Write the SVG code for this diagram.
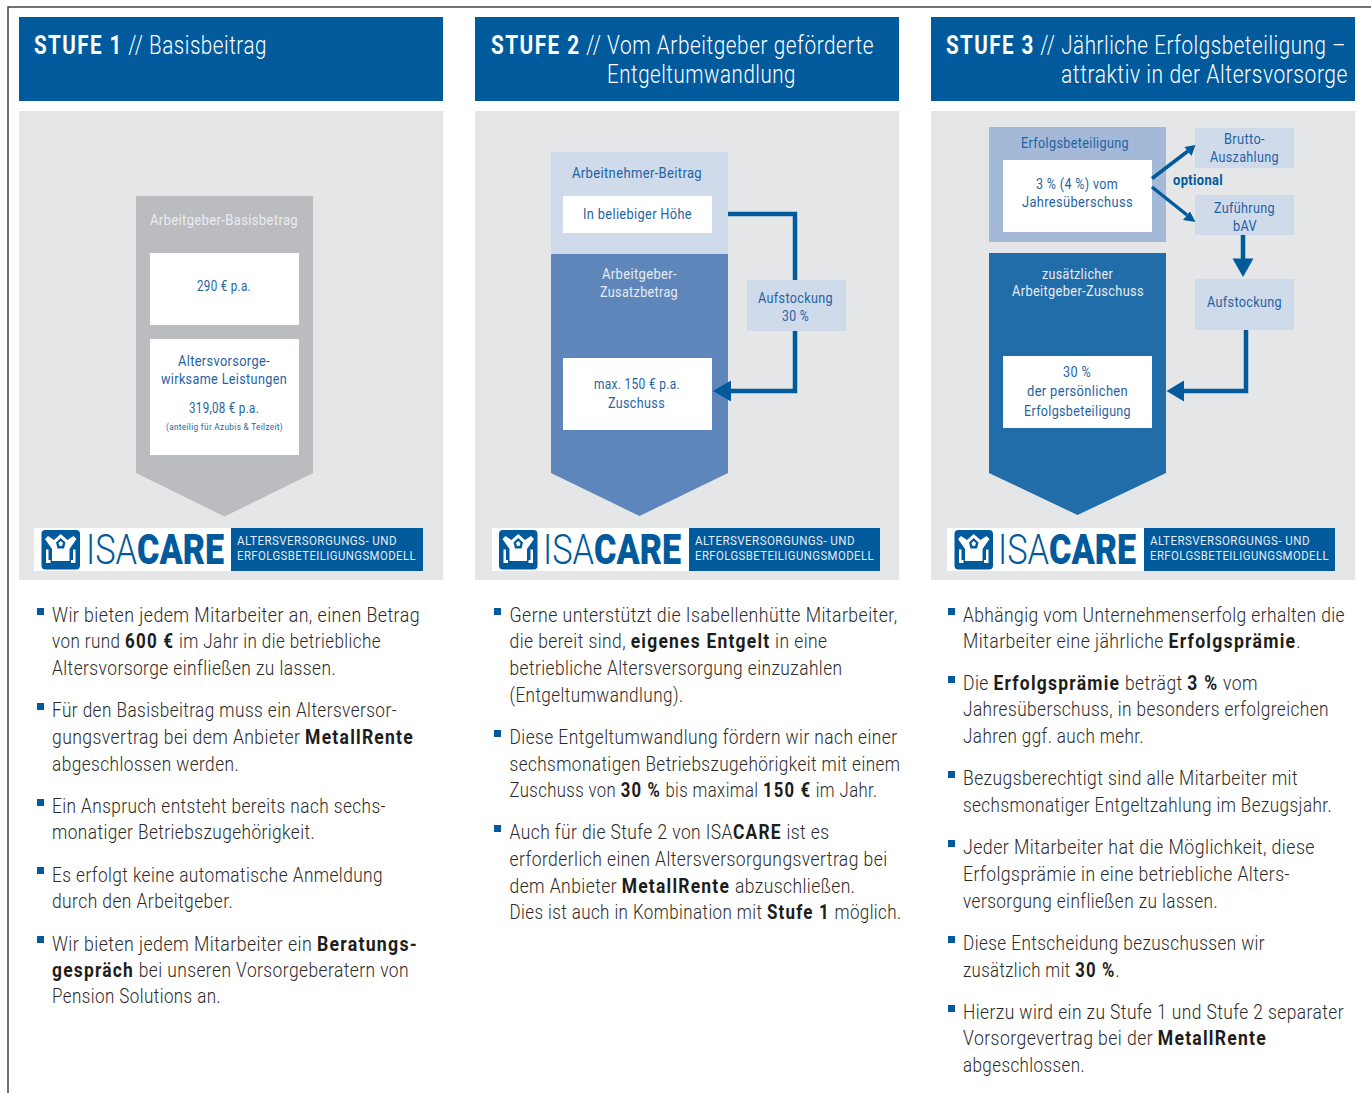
<svg xmlns="http://www.w3.org/2000/svg" width="1371" height="1093" viewBox="0 0 1371 1093">
<style>
text{font-family:Roboto,"Liberation Sans",sans-serif}
.b{font-size:20px;fill:#2b2a29;font-weight:300;letter-spacing:.5px;transform:translateY(1px)}
.b tspan{font-weight:700;fill:#1d1d1b;letter-spacing:1.400px}
.h{font-size:26px;fill:#fff;font-weight:300;letter-spacing:.7px}
.h tspan{font-weight:700;letter-spacing:1.800px}
.l{font-size:14.5px;fill:#1f63a3;letter-spacing:.4px}
.w{font-size:14.5px;fill:#e8ecf2;letter-spacing:.4px}
.hd{fill:#005a9c}.pn{fill:#e5e6e8}.wb{fill:#fff}.lt{fill:#cfdaeb}
.bu{fill:#005a9c}
.c{fill:none;stroke:#005a9c;stroke-width:4.5}
.ah{fill:#005a9c}
.isa{font-size:42px;font-weight:300;fill:#005a9c}
.care{font-size:42px;font-weight:900;fill:#005a9c}
.lg{font-size:13px;fill:#e4edf5;letter-spacing:.5px}
</style>
<defs>
<g id="ico">
<rect x="0" y="0" width="38.5" height="39.500" rx="4" fill="#005a9c"/>
<path d="M19.200 4L26 10L32 6L35 9L28 19V31H10.500V19L3.500 9L6.500 6L12.500 10Z" fill="#fff"/>
<path d="M19.200 8L14.500 12.500L16 18.500H22.500L24 12.500Z" fill="#005a9c"/>
<path d="M19.200 11L17 13L18 16H20.500L21.500 13Z" fill="#fff"/>
<path d="M4.500 19.500H7V30H9V33H4.500ZM34 19.500H31.500V30H29.500V33H34Z" fill="#fff"/>
</g>
</defs>
<path d="M8 1093V7H1371" fill="none" stroke="#444" stroke-width="1.5"/>

<g id="stufe1">
<g id="s1-header"><rect class="hd" x="19" y="17" width="424" height="84"/>
<text class="h" x="34" y="54" textLength="233" lengthAdjust="spacingAndGlyphs"><tspan>STUFE 1</tspan> // Basisbeitrag</text></g>
<rect class="pn" x="19" y="111" width="424" height="469"/>
<g id="s1-arrow"><path d="M136 196H313V473L224.500 516.500L136 473Z" fill="#bbbcbf"/>
<text class="w" x="150" y="225" textLength="148" lengthAdjust="spacingAndGlyphs">Arbeitgeber-Basisbetrag</text></g>
<g id="s1-betrag"><rect class="wb" x="150" y="253" width="149" height="72"/>
<text class="l" x="197" y="291" textLength="54" lengthAdjust="spacingAndGlyphs">290 € p.a.</text></g>
<g id="s1-leistungen"><rect class="wb" x="150" y="339" width="149" height="116"/>
<text class="l" x="178" y="366" textLength="92" lengthAdjust="spacingAndGlyphs">Altersvorsorge-</text>
<text class="l" x="161" y="384" textLength="126" lengthAdjust="spacingAndGlyphs">wirksame Leistungen</text>
<text class="l" x="189" y="413" textLength="70" lengthAdjust="spacingAndGlyphs">319,08 € p.a.</text>
<text class="l" style="font-size:9.500px" x="166" y="430" textLength="117" lengthAdjust="spacingAndGlyphs">(anteilig für Azubis &amp; Teilzeit)</text></g>
<g id="s1-logo"><rect class="wb" x="34" y="528" width="197" height="43"/><rect class="hd" x="231" y="528" width="192" height="43"/>
<use href="#ico" x="41.500" y="530"/>
<text class="isa" x="86" y="564" textLength="51" lengthAdjust="spacingAndGlyphs">ISA</text>
<text class="care" x="137" y="564" textLength="87" lengthAdjust="spacingAndGlyphs">CARE</text>
<text class="lg" x="237" y="545" textLength="160" lengthAdjust="spacingAndGlyphs">ALTERSVERSORGUNGS- UND</text>
<text class="lg" x="237" y="560" textLength="179" lengthAdjust="spacingAndGlyphs">ERFOLGSBETEILIGUNGSMODELL</text></g>
<g id="s1-text">
<rect class="bu" x="37" y="608" width="7" height="7"/><rect class="bu" x="37" y="703" width="7" height="7"/><rect class="bu" x="37" y="799" width="7" height="7"/><rect class="bu" x="37" y="867" width="7" height="7"/><rect class="bu" x="37" y="936" width="7" height="7"/>
<text class="b" x="52" y="621" textLength="368" lengthAdjust="spacingAndGlyphs">Wir bieten jedem Mitarbeiter an, einen Betrag</text>
<text class="b" x="52" y="647" textLength="329" lengthAdjust="spacingAndGlyphs">von rund <tspan>600 €</tspan> im Jahr in die betriebliche</text>
<text class="b" x="52" y="674" textLength="284" lengthAdjust="spacingAndGlyphs">Altersvorsorge einfließen zu lassen.</text>
<text class="b" x="52" y="716" textLength="345" lengthAdjust="spacingAndGlyphs">Für den Basisbeitrag muss ein Altersversor-</text>
<text class="b" x="52" y="743" textLength="362" lengthAdjust="spacingAndGlyphs">gungsvertrag bei dem Anbieter <tspan>MetallRente</tspan></text>
<text class="b" x="52" y="770" textLength="187" lengthAdjust="spacingAndGlyphs">abgeschlossen werden.</text>
<text class="b" x="52" y="812" textLength="334" lengthAdjust="spacingAndGlyphs">Ein Anspruch entsteht bereits nach sechs-</text>
<text class="b" x="52" y="838" textLength="263" lengthAdjust="spacingAndGlyphs">monatiger Betriebszugehörigkeit.</text>
<text class="b" x="52" y="881" textLength="331" lengthAdjust="spacingAndGlyphs">Es erfolgt keine automatische Anmeldung</text>
<text class="b" x="52" y="907" textLength="181" lengthAdjust="spacingAndGlyphs">durch den Arbeitgeber.</text>
<text class="b" x="52" y="950" textLength="366" lengthAdjust="spacingAndGlyphs">Wir bieten jedem Mitarbeiter ein <tspan>Beratungs-</tspan></text>
<text class="b" x="52" y="976" textLength="357" lengthAdjust="spacingAndGlyphs"><tspan>gespräch</tspan> bei unseren Vorsorgeberatern von</text>
<text class="b" x="52" y="1002" textLength="169" lengthAdjust="spacingAndGlyphs">Pension Solutions an.</text>
</g>
</g>

<g id="stufe2">
<g id="s2-header"><rect class="hd" x="475" y="17" width="424" height="84"/>
<text class="h" x="491" y="54" textLength="383" lengthAdjust="spacingAndGlyphs"><tspan>STUFE 2</tspan> // Vom Arbeitgeber geförderte</text>
<text class="h" x="607" y="83" textLength="189" lengthAdjust="spacingAndGlyphs">Entgeltumwandlung</text></g>
<rect class="pn" x="475" y="111" width="424" height="469"/>
<g id="s2-nehmer"><rect class="lt" x="551" y="152" width="177" height="102"/>
<text class="l" x="572" y="178" textLength="130" lengthAdjust="spacingAndGlyphs">Arbeitnehmer-Beitrag</text>
<rect class="wb" x="563" y="196" width="149" height="37"/>
<text class="l" x="583" y="219" textLength="109" lengthAdjust="spacingAndGlyphs">In beliebiger Höhe</text></g>
<g id="s2-geber"><path d="M551 254H728V473L639.500 516L551 473Z" fill="#5e86ba"/>
<text class="w" x="602" y="279" textLength="75" lengthAdjust="spacingAndGlyphs">Arbeitgeber-</text>
<text class="w" x="600" y="297" textLength="78" lengthAdjust="spacingAndGlyphs">Zusatzbetrag</text>
<rect class="wb" x="563" y="358" width="149" height="72"/>
<text class="l" x="594" y="389" textLength="86" lengthAdjust="spacingAndGlyphs">max. 150 € p.a.</text>
<text class="l" x="608" y="408" textLength="57" lengthAdjust="spacingAndGlyphs">Zuschuss</text></g>
<g id="s2-connectors">
<path class="c" d="M728 214H795V391H728"/>
<path class="ah" d="M713 391L731 380.500V401.500Z"/>
</g>
<g id="s2-aufstockung"><rect class="lt" x="747" y="280" width="99" height="51"/>
<text class="l" x="758" y="303" textLength="75" lengthAdjust="spacingAndGlyphs">Aufstockung</text>
<text class="l" x="782" y="321" textLength="27" lengthAdjust="spacingAndGlyphs">30 %</text></g>
<g id="s2-logo"><rect class="wb" x="492" y="528" width="197" height="43"/><rect class="hd" x="689" y="528" width="191" height="43"/>
<use href="#ico" x="499" y="530"/>
<text class="isa" x="543" y="564" textLength="51" lengthAdjust="spacingAndGlyphs">ISA</text>
<text class="care" x="594" y="564" textLength="87" lengthAdjust="spacingAndGlyphs">CARE</text>
<text class="lg" x="695" y="545" textLength="160" lengthAdjust="spacingAndGlyphs">ALTERSVERSORGUNGS- UND</text>
<text class="lg" x="695" y="560" textLength="179" lengthAdjust="spacingAndGlyphs">ERFOLGSBETEILIGUNGSMODELL</text></g>
<g id="s2-text">
<rect class="bu" x="494" y="608" width="7" height="7"/><rect class="bu" x="494" y="730" width="7" height="7"/><rect class="bu" x="494" y="825" width="7" height="7"/>
<text class="b" x="509.500" y="621" textLength="388" lengthAdjust="spacingAndGlyphs">Gerne unterstützt die Isabellenhütte Mitarbeiter,</text>
<text class="b" x="509.500" y="647" textLength="318" lengthAdjust="spacingAndGlyphs">die bereit sind, <tspan>eigenes Entgelt</tspan> in eine</text>
<text class="b" x="509.500" y="674" textLength="333" lengthAdjust="spacingAndGlyphs">betriebliche Altersversorgung einzuzahlen</text>
<text class="b" x="509.500" y="701" textLength="174" lengthAdjust="spacingAndGlyphs">(Entgeltumwandlung).</text>
<text class="b" x="509.500" y="743" textLength="388" lengthAdjust="spacingAndGlyphs">Diese Entgeltumwandlung fördern wir nach einer</text>
<text class="b" x="509.500" y="770" textLength="391" lengthAdjust="spacingAndGlyphs">sechsmonatigen Betriebszugehörigkeit mit einem</text>
<text class="b" x="509.500" y="796" textLength="368" lengthAdjust="spacingAndGlyphs">Zuschuss von <tspan>30 %</tspan> bis maximal <tspan>150 €</tspan> im Jahr.</text>
<text class="b" x="509.500" y="838" textLength="320" lengthAdjust="spacingAndGlyphs">Auch für die Stufe 2 von ISA<tspan>CARE</tspan> ist es</text>
<text class="b" x="509.500" y="865" textLength="378" lengthAdjust="spacingAndGlyphs">erforderlich einen Altersversorgungsvertrag bei</text>
<text class="b" x="509.500" y="892" textLength="346" lengthAdjust="spacingAndGlyphs">dem Anbieter <tspan>MetallRente</tspan> abzuschließen.</text>
<text class="b" x="509.500" y="918" textLength="392" lengthAdjust="spacingAndGlyphs">Dies ist auch in Kombination mit <tspan>Stufe 1</tspan> möglich.</text>
</g>
</g>

<g id="stufe3">
<g id="s3-header"><rect class="hd" x="931" y="17" width="424" height="84"/>
<text class="h" x="946" y="54" textLength="400" lengthAdjust="spacingAndGlyphs"><tspan>STUFE 3</tspan> // Jährliche Erfolgsbeteiligung –</text>
<text class="h" x="1061" y="83" textLength="287" lengthAdjust="spacingAndGlyphs">attraktiv in der Altersvorsorge</text></g>
<rect class="pn" x="931" y="111" width="424" height="469"/>
<g id="s3-erfolg"><rect x="989" y="127" width="177" height="115" fill="#a4b8d8"/>
<text class="l" x="1021" y="148" textLength="108" lengthAdjust="spacingAndGlyphs">Erfolgsbeteiligung</text>
<rect class="wb" x="1003" y="160" width="149" height="72"/>
<text class="l" x="1036" y="189" textLength="82" lengthAdjust="spacingAndGlyphs">3 % (4 %) vom</text>
<text class="l" x="1022" y="207" textLength="111" lengthAdjust="spacingAndGlyphs">Jahresüberschuss</text></g>
<g id="s3-zuschuss"><path d="M989 253H1166V473L1077.500 515L989 473Z" fill="#206daa"/>
<text class="w" x="1042" y="279" textLength="71" lengthAdjust="spacingAndGlyphs">zusätzlicher</text>
<text class="w" x="1012" y="296" textLength="132" lengthAdjust="spacingAndGlyphs">Arbeitgeber-Zuschuss</text>
<rect class="wb" x="1003" y="356" width="149" height="72"/>
<text class="l" x="1063" y="377" textLength="28" lengthAdjust="spacingAndGlyphs">30 %</text>
<text class="l" x="1027" y="396" textLength="101" lengthAdjust="spacingAndGlyphs">der persönlichen</text>
<text class="l" x="1024" y="416" textLength="107" lengthAdjust="spacingAndGlyphs">Erfolgsbeteiligung</text></g>
<g id="s3-brutto"><rect class="lt" x="1195" y="128" width="99" height="40"/>
<text class="l" x="1224" y="144" textLength="41" lengthAdjust="spacingAndGlyphs">Brutto-</text>
<text class="l" x="1210" y="162" textLength="69" lengthAdjust="spacingAndGlyphs">Auszahlung</text></g>
<g id="s3-bav"><rect class="lt" x="1195" y="195" width="99" height="40"/>
<text class="l" x="1214" y="213" textLength="61" lengthAdjust="spacingAndGlyphs">Zuführung</text>
<text class="l" x="1233" y="231" textLength="24" lengthAdjust="spacingAndGlyphs">bAV</text></g>
<g id="s3-aufstockung"><rect class="lt" x="1195" y="279" width="99" height="51"/>
<text class="l" x="1207" y="307" textLength="75" lengthAdjust="spacingAndGlyphs">Aufstockung</text></g>
<text class="l" x="1173" y="185" textLength="50" lengthAdjust="spacingAndGlyphs" style="font-weight:700;fill:#005a9c">optional</text>
<g id="s3-connectors">
<path class="c" style="stroke-width:3.500" d="M1152 178.500L1188 151"/>
<path class="ah" d="M1195.500 145L1191.500 156L1184.500 147Z"/>
<path class="c" style="stroke-width:3.500" d="M1152 187L1187 215"/>
<path class="ah" d="M1195.500 222L1183 220L1190 211.500Z"/>
<path class="c" d="M1243 235V260"/>
<path class="ah" d="M1232.500 258.500H1253.500L1243 277Z"/>
<path class="c" d="M1246 330V391H1180"/>
<path class="ah" d="M1166.500 391L1184 380.500V401.500Z"/>
</g>
<g id="s3-logo"><rect class="wb" x="947" y="528" width="197" height="43"/><rect class="hd" x="1144" y="528" width="191" height="43"/>
<use href="#ico" x="954.500" y="530"/>
<text class="isa" x="998" y="564" textLength="51" lengthAdjust="spacingAndGlyphs">ISA</text>
<text class="care" x="1049" y="564" textLength="87" lengthAdjust="spacingAndGlyphs">CARE</text>
<text class="lg" x="1150" y="545" textLength="160" lengthAdjust="spacingAndGlyphs">ALTERSVERSORGUNGS- UND</text>
<text class="lg" x="1150" y="560" textLength="179" lengthAdjust="spacingAndGlyphs">ERFOLGSBETEILIGUNGSMODELL</text></g>
<g id="s3-text">
<rect class="bu" x="948" y="608" width="7" height="7"/><rect class="bu" x="948" y="676" width="7" height="7"/><rect class="bu" x="948" y="771" width="7" height="7"/><rect class="bu" x="948" y="840" width="7" height="7"/><rect class="bu" x="948" y="936" width="7" height="7"/><rect class="bu" x="948" y="1005" width="7" height="7"/>
<text class="b" x="963" y="621" textLength="382" lengthAdjust="spacingAndGlyphs">Abhängig vom Unternehmenserfolg erhalten die</text>
<text class="b" x="963" y="647" textLength="338" lengthAdjust="spacingAndGlyphs">Mitarbeiter eine jährliche <tspan>Erfolgsprämie</tspan>.</text>
<text class="b" x="963" y="689" textLength="295" lengthAdjust="spacingAndGlyphs">Die <tspan>Erfolgsprämie</tspan> beträgt <tspan>3 %</tspan> vom</text>
<text class="b" x="963" y="715" textLength="366" lengthAdjust="spacingAndGlyphs">Jahresüberschuss, in besonders erfolgreichen</text>
<text class="b" x="963" y="742" textLength="181" lengthAdjust="spacingAndGlyphs">Jahren ggf. auch mehr.</text>
<text class="b" x="963" y="784" textLength="335" lengthAdjust="spacingAndGlyphs">Bezugsberechtigt sind alle Mitarbeiter mit</text>
<text class="b" x="963" y="811" textLength="369" lengthAdjust="spacingAndGlyphs">sechsmonatiger Entgeltzahlung im Bezugsjahr.</text>
<text class="b" x="963" y="853" textLength="352" lengthAdjust="spacingAndGlyphs">Jeder Mitarbeiter hat die Möglichkeit, diese</text>
<text class="b" x="963" y="880" textLength="327" lengthAdjust="spacingAndGlyphs">Erfolgsprämie in eine betriebliche Alters-</text>
<text class="b" x="963" y="907" textLength="255" lengthAdjust="spacingAndGlyphs">versorgung einfließen zu lassen.</text>
<text class="b" x="963" y="949" textLength="302" lengthAdjust="spacingAndGlyphs">Diese Entscheidung bezuschussen wir</text>
<text class="b" x="963" y="976" textLength="157" lengthAdjust="spacingAndGlyphs">zusätzlich mit <tspan>30 %</tspan>.</text>
<text class="b" x="963" y="1018" textLength="381" lengthAdjust="spacingAndGlyphs">Hierzu wird ein zu Stufe 1 und Stufe 2 separater</text>
<text class="b" x="963" y="1044" textLength="304" lengthAdjust="spacingAndGlyphs">Vorsorgevertrag bei der <tspan>MetallRente</tspan></text>
<text class="b" x="963" y="1071" textLength="122" lengthAdjust="spacingAndGlyphs">abgeschlossen.</text>
</g>
</g>
</svg>
